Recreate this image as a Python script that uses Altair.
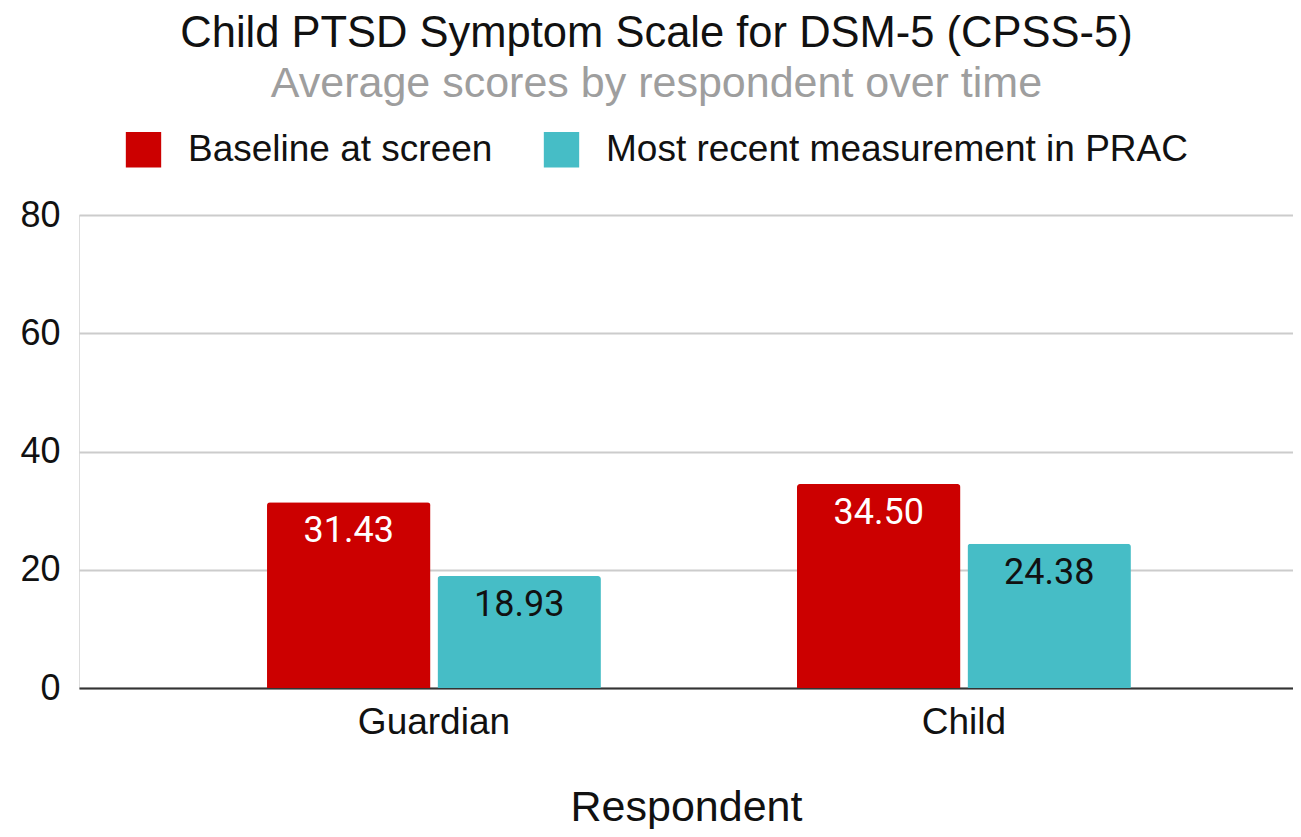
import altair as alt
import pandas as pd

respondents = ["Guardian", "Child"]
series_names = ["Baseline at screen", "Most recent measurement in PRAC"]
baseline_scores = [31.43, 34.50]
recent_scores = [18.93, 24.38]
bar_colors = ["#cc0000", "#46bdc6"]
label_colors = ["#ffffff", "#111111"]

rows = []
for i, r in enumerate(respondents):
    rows.append({"respondent": r, "series": series_names[0], "value": baseline_scores[i]})
    rows.append({"respondent": r, "series": series_names[1], "value": recent_scores[i]})
df = pd.DataFrame(rows)

FONT = "Liberation Sans"

x_enc = alt.X(
    "respondent:N",
    sort=respondents,
    scale=alt.Scale(paddingInner=0.37, paddingOuter=0.3303, align=0.537),
    axis=alt.Axis(
        title="Respondent", labelAngle=0, labelFontSize=37, labelFont=FONT,
        labelColor="#111", titleFontSize=43, titleFont=FONT, titleFontWeight="normal",
        titleColor="#111", ticks=False, labelPadding=16, titlePadding=46,
        domainColor="#333", domainWidth=2,
    ),
)
xoff = alt.XOffset("series:N", sort=series_names, scale=alt.Scale(paddingInner=0.041))
y_enc = alt.Y(
    "value:Q",
    scale=alt.Scale(domain=[0, 80]),
    axis=alt.Axis(
        title=None, values=[0, 20, 40, 60, 80], labelFontSize=36, labelFont=FONT,
        labelColor="#111", ticks=False, domain=False, labelPadding=19,
        gridColor="#cccccc", gridWidth=2,
    ),
)

bars = alt.Chart(df).mark_bar(cornerRadiusTopLeft=3, cornerRadiusTopRight=3).encode(
    x=x_enc,
    xOffset=xoff,
    y=y_enc,
    color=alt.Color(
        "series:N", sort=series_names,
        scale=alt.Scale(domain=series_names, range=bar_colors),
        legend=alt.Legend(
            title=None, orient="none", legendX=46, legendY=-84, direction="horizontal",
            symbolType="square", symbolSize=1250, symbolStrokeWidth=0,
            labelFontSize=37, labelFont=FONT, labelColor="#111", labelOffset=26,
            labelLimit=0, columnPadding=50,
        ),
    ),
)

labels = alt.Chart(df).mark_text(baseline="top", dy=12, font="Roboto", fontSize=36).encode(
    x=alt.X("respondent:N", sort=respondents),
    xOffset=alt.XOffset("series:N", sort=series_names),
    y=alt.Y("value:Q"),
    text=alt.Text("value:Q", format=".2f"),
    color=alt.Color("series:N", scale=alt.Scale(domain=series_names, range=label_colors), legend=None),
)

chart = alt.layer(bars, labels).resolve_scale(color="independent").properties(
    width=1214, height=473,
    autosize=alt.AutoSizeParams(type="none"),
    padding={"left": 71, "top": 207, "right": 0, "bottom": 141},
    title=alt.TitleParams(
        text="Child PTSD Symptom Scale for DSM-5 (CPSS-5)",
        subtitle="Average scores by respondent over time",
        anchor="middle", frame="bounds", font=FONT, fontSize=43.5, fontWeight="normal",
        color="#111", subtitleFont=FONT, subtitleFontSize=43, subtitleColor="#9e9e9e",
        subtitlePadding=7, offset=24,
    ),
).configure_view(stroke=None).configure(background="white")

chart.save("out.html", embed_options={"renderer": "svg", "actions": False})
